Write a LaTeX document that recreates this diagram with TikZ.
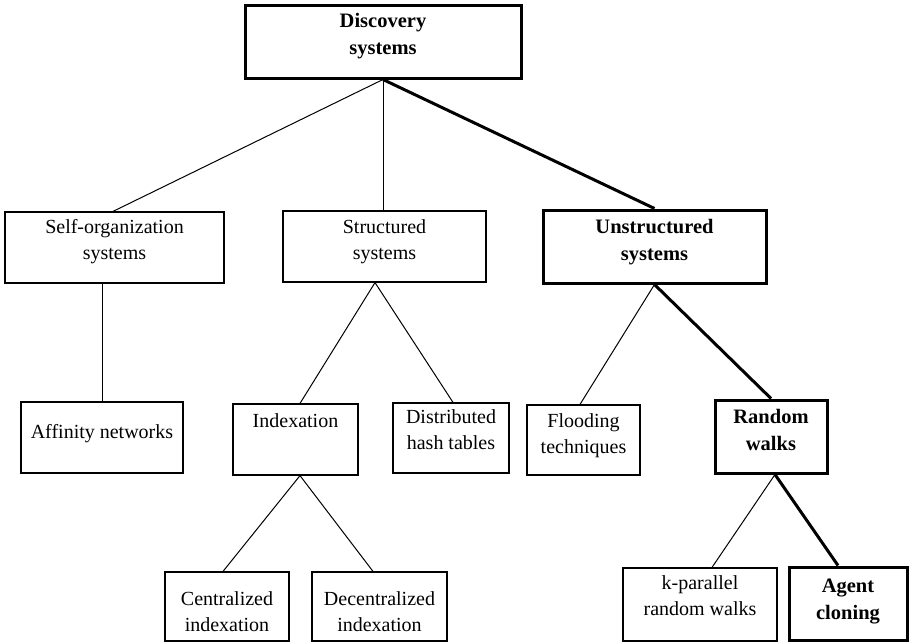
\documentclass[tikz,border=0pt]{standalone}
\usepackage{fontspec}
\setmainfont{Liberation Serif}
\begin{document}
\begin{tikzpicture}[x=1pt,y=-1pt,
  box/.style={draw, line width=1.2pt, inner sep=0pt, align=center,
    font=\fontsize{20}{26}\selectfont},
  keybox/.style={box, line width=3pt, font=\fontsize{20.5}{27}\selectfont\bfseries},
  link/.style={line width=1pt},
  keylink/.style={line width=3pt},
]
\useasboundingbox (0,0) rectangle (923,642);

% root
\node[keybox, minimum width=276pt, text height=49pt, text depth=23pt] (disc) at (383,42) {Discovery\\systems};

% second level
\node[box, minimum width=219pt, text height=47pt, text depth=24pt] (self) at (114.5,247.5) {Self-organization\\systems};
\node[box, minimum width=203pt, text height=48pt, text depth=23pt] (struct) at (384.5,246.5) {Structured\\systems};
\node[keybox, minimum width=223pt, text height=50pt, text depth=23pt] (unstr) at (654.5,246.5) {Unstructured\\systems};

% third level
\node[box, minimum width=162pt, text height=36pt, text depth=35pt] (aff) at (102,437.5) {Affinity networks};
\node[box, minimum width=125pt, text height=23pt, text depth=48pt] (idx) at (295.5,439.5) {Indexation};
\node[box, minimum width=116pt, text height=46pt, text depth=24pt] (dht) at (451,438) {Distributed\\hash tables};
\node[box, minimum width=113pt, text height=48pt, text depth=22pt] (flood) at (583.5,440) {Flooding\\techniques};
\node[keybox, minimum width=112pt, text height=50pt, text depth=23pt] (rw) at (771,436.5) {Random\\walks};

% leaves
\node[box, minimum width=124pt, text height=59pt, text depth=10pt] (cent) at (227,606.5) {Centralized\\indexation};
\node[box, minimum width=135pt, text height=59pt, text depth=10pt] (decent) at (379.5,606.5) {Decentralized\\indexation};
\node[box, minimum width=154pt, text height=47pt, text depth=26pt] (kpar) at (700,604.5) {k-parallel\\random walks};
\node[keybox, minimum width=118pt, text height=52pt, text depth=21.5pt] (agent) at (848,603.75) {Agent\\cloning};

% connectors
\draw[link] (disc.south) -- ([xshift=-1.5pt]self.north);
\draw[link] (disc.south) -- ([xshift=-1.5pt]struct.north);
\draw[keylink] (disc.south) -- (unstr.north);

\draw[link] (aff.north |- self.south) -- (aff.north);

\draw[link] ([xshift=-9.5pt]struct.south) -- ([xshift=4.5pt]idx.north);
\draw[link] ([xshift=-9.5pt]struct.south) -- ([xshift=2pt]dht.north);

\draw[link] ([xshift=4.5pt]idx.south) -- ([xshift=-4pt]cent.north);
\draw[link] ([xshift=4.5pt]idx.south) -- ([xshift=-6.5pt]decent.north);

\draw[link] (unstr.south) -- ([xshift=-3.5pt]flood.north);
\draw[keylink] (unstr.south) -- (rw.north);

\draw[link] ([xshift=4pt]rw.south) -- ([xshift=12pt]kpar.north);
\draw[keylink] ([xshift=4pt]rw.south) -- ([xshift=-10pt]agent.north);
\end{tikzpicture}
\end{document}
